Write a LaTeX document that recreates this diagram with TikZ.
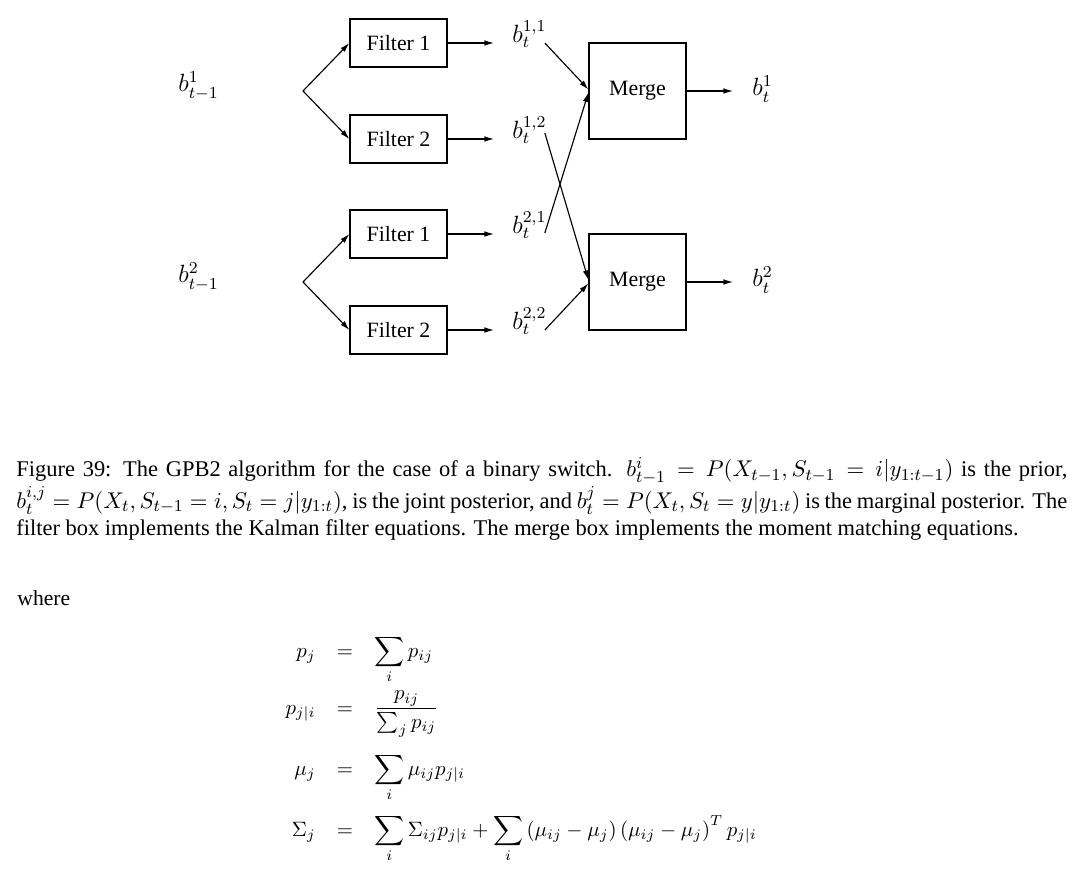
\documentclass[tikz,border=0pt]{standalone}
\usepackage[no-math]{fontspec}
\setmainfont{Liberation Serif}
\usetikzlibrary{arrows.meta,calc}
\begin{document}
\begin{tikzpicture}[x=0.4808pt,y=-0.4808pt,
  box/.style={draw,line width=0.6pt,inner sep=0pt,minimum width=46.6pt,minimum height=23.1pt,font=\fontsize{10.5}{12}\selectfont},
  mergebox/.style={box,minimum height=46.2pt},
  lab/.style={inner sep=0pt,font=\fontsize{12}{14}\selectfont},
  arr/.style={line width=0.55pt,-{Latex[length=4.6pt,width=2.7pt]}},
  eq/.style={inner sep=0pt,font=\fontsize{10}{12}\selectfont},
  txt/.style={inner sep=0pt,font=\fontsize{10.8}{12.9}\selectfont}]
\useasboundingbox (0,0) rectangle (1080,885);
% boxes
\node[box] (f11) at (398.5,43) {Filter 1};
\node[box] (f12) at (398.5,139) {Filter 2};
\node[box] (f21) at (398.5,234) {Filter 1};
\node[box] (f22) at (398.5,330) {Filter 2};
\node[mergebox] (m1) at (637.5,91) {Merge};
\node[mergebox] (m2) at (637.5,282) {Merge};
% inputs
\node[lab,anchor=base west] (p1) at (178,92) {$b^1_{t-1}$};
\node[lab,anchor=base west] (p2) at (178,283) {$b^2_{t-1}$};
\coordinate (br1) at (303,91);
\coordinate (br2) at (303,282);
\draw[arr] (br1) -- (f11.west);
\draw[arr] (br1) -- (f12.west);
\draw[arr] (br2) -- (f21.west);
\draw[arr] (br2) -- (f22.west);
% filter outputs
\coordinate (e11) at (494,43);
\coordinate (e12) at (494,139);
\coordinate (e21) at (494,234);
\coordinate (e22) at (494,330);
\draw[arr] (f11.east) -- (e11);
\draw[arr] (f12.east) -- (e12);
\draw[arr] (f21.east) -- (e21);
\draw[arr] (f22.east) -- (e22);
\node[lab,anchor=base west] (b11) at (512,43) {$b^{1,1}_t$};
\node[lab,anchor=base west] (b12) at (512,139) {$b^{1,2}_t$};
\node[lab,anchor=base west] (b21) at (512,234) {$b^{2,1}_t$};
\node[lab,anchor=base west] (b22) at (512,330) {$b^{2,2}_t$};
% cross connections
\coordinate (s11) at ($(b11.base east)+(-2,0)$);
\coordinate (s12) at ($(b12.base east)+(-2,-6)$);
\coordinate (s21) at ($(b21.base east)+(-2,-1)$);
\coordinate (s22) at ($(b22.base east)+(-2,0)$);
\draw[arr] (s11) -- ($(m1.west)+(0,-1.5)$);
\draw[arr] (s21) -- ($(m1.west)+(0,1.5)$);
\draw[arr] (s12) -- ($(m2.west)+(0,-2)$);
\draw[arr] (s22) -- ($(m2.west)+(0,1.5)$);
% merge outputs
\coordinate (o1) at (733,91);
\coordinate (o2) at (733,282);
\draw[arr] (m1.east) -- (o1);
\draw[arr] (m2.east) -- (o2);
\node[lab,anchor=base west] (q1) at (752,96) {$b^1_t$};
\node[lab,anchor=base west] (q2) at (752,287) {$b^2_t$};
% caption
\node[txt,anchor=north west,text width=505.3pt,align=justify] (cap) at (16,457)
{\lineskiplimit=-6pt\relax\lineskip=0pt\relax Figure 39: The GPB2 algorithm for the case of a binary switch. $b^i_{t-1} = P(X_{t-1}, S_{t-1} = i|y_{1:t-1})$ is the prior,\linebreak
$b^{i,j}_t = P(X_t, S_{t-1} = i, S_t = j|y_{1:t})$, is the joint posterior, and $b^j_t = P(X_t, S_t = y|y_{1:t})$ is the marginal posterior. The\linebreak
filter box implements the Kalman filter equations. The merge box implements the moment matching equations.};
\node[inner sep=0pt,font=\fontsize{10.4}{12}\selectfont,anchor=base west] (where) at (17,605) {where};
% equations
\node[eq,anchor=base east] (l1) at (316,657) {$p_j$};
\node[eq,anchor=base] (q1e) at (345,657) {$=$};
\node[eq,anchor=base west] (r1) at (374,657) {$\displaystyle\sum_i p_{ij}$};
\node[eq,anchor=base east] (l2) at (316,714) {$p_{j|i}$};
\node[eq,anchor=base] (q2e) at (345,714) {$=$};
\node[eq,anchor=base west] (r2) at (374,714) {$\displaystyle\frac{p_{ij}}{\sum_j p_{ij}}$};
\node[eq,anchor=base east] (l3) at (316,775) {$\mu_j$};
\node[eq,anchor=base] (q3e) at (345,775) {$=$};
\node[eq,anchor=base west] (r3) at (374,775) {$\displaystyle\sum_i \mu_{ij} p_{j|i}$};
\node[eq,anchor=base east] (l4) at (316,836) {$\Sigma_j$};
\node[eq,anchor=base] (q4e) at (345,836) {$=$};
\node[eq,anchor=base west] (r4) at (374,836) {$\displaystyle\sum_i \Sigma_{ij} p_{j|i} + \sum_i \left(\mu_{ij}-\mu_j\right)\left(\mu_{ij}-\mu_j\right)^T p_{j|i}$};
\end{tikzpicture}
\end{document}
